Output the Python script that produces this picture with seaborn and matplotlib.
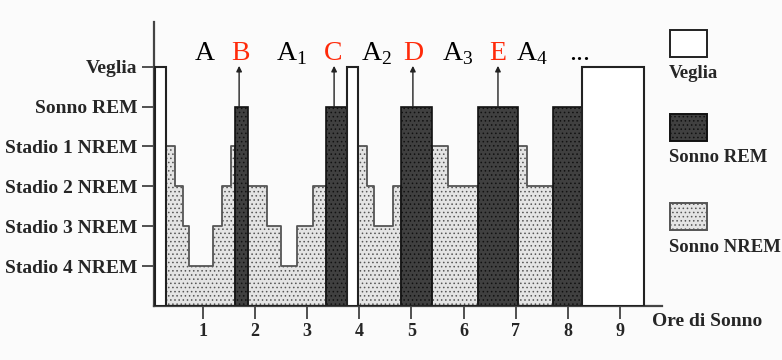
import matplotlib
matplotlib.use('Agg')
import matplotlib.pyplot as plt
import seaborn as sns
import pandas as pd
from matplotlib.patches import Rectangle

# stages on the y axis (top to bottom) and their numeric level
stage_labels = ['Veglia', 'Sonno REM', 'Stadio 1 NREM', 'Stadio 2 NREM',
                'Stadio 3 NREM', 'Stadio 4 NREM']
stage_levels = [6, 5, 4, 3, 2, 1]

# hypnogram: start of each segment (hours) and the stage in it
seg_start = [0.08, 0.30, 0.47, 0.62, 0.74, 1.20, 1.37, 1.54, 1.62, 1.87,
             2.23, 2.50, 2.81, 3.12, 3.37, 3.77, 3.98, 4.15, 4.28, 4.65,
             4.80, 5.40, 5.71, 6.28, 7.05, 7.22, 7.72, 8.27]
seg_end_last = 9.45
seg_stage = ['Veglia', 'Stadio 1 NREM', 'Stadio 2 NREM', 'Stadio 3 NREM',
             'Stadio 4 NREM', 'Stadio 3 NREM', 'Stadio 2 NREM', 'Stadio 1 NREM',
             'Sonno REM', 'Stadio 2 NREM', 'Stadio 3 NREM', 'Stadio 4 NREM',
             'Stadio 3 NREM', 'Stadio 2 NREM', 'Sonno REM', 'Veglia',
             'Stadio 1 NREM', 'Stadio 2 NREM', 'Stadio 3 NREM', 'Stadio 2 NREM',
             'Sonno REM', 'Stadio 1 NREM', 'Stadio 2 NREM', 'Sonno REM',
             'Stadio 1 NREM', 'Stadio 2 NREM', 'Sonno REM', 'Veglia']

hour_ticks = [1, 2, 3, 4, 5, 6, 7, 8, 9]

# cycle letters above the chart: label, x (hours), colour
cycle_text = ['A', 'B', r'A$_\mathrm{1}$', 'C', r'A$_\mathrm{2}$', 'D',
              r'A$_\mathrm{3}$', 'E', r'A$_\mathrm{4}$', '...']
cycle_x = [1.04, 1.72, 2.70, 3.50, 4.33, 5.03, 5.88, 6.66, 7.32, 8.22]
cycle_red = [False, True, False, True, False, True, False, True, False, False]
# arrows from the REM bars up to the red letters
arrow_x = [1.70, 3.52, 5.03, 6.66]

edges = seg_start + [seg_end_last]
level_of = dict(zip(stage_labels, stage_levels))
df = pd.DataFrame({'start': seg_start, 'end': edges[1:], 'stage': seg_stage})
df['mid'] = (df['start'] + df['end']) / 2
df['level'] = df['stage'].map(level_of)
df['kind'] = df['stage'].map(lambda s: s if s in ('Veglia', 'Sonno REM') else 'Sonno NREM')

sns.set_style('white')
plt.rcParams['font.family'] = ['Liberation Serif', 'DejaVu Serif']
plt.rcParams['mathtext.fontset'] = 'custom'
plt.rcParams['mathtext.rm'] = 'Liberation Serif'
plt.rcParams['hatch.linewidth'] = 0.6

bg = '#fbfbfb'
fig = plt.figure(figsize=(7.82, 3.6), dpi=100, facecolor=bg)
ax = fig.add_axes([0.197, 0.15, 0.65, 0.789])
ax.set_facecolor(bg)

nrem = df[df['kind'] == 'Sonno NREM']
rem = df[df['kind'] == 'Sonno REM']
wake = df[df['kind'] == 'Veglia']

sns.histplot(x=nrem['mid'], weights=nrem['level'], bins=edges, element='step',
             fill=True, facecolor='#e4e4e4', edgecolor='#555555', linewidth=1.3,
             hatch='....', alpha=1, ax=ax, zorder=1)
sns.histplot(x=rem['mid'], weights=rem['level'], bins=edges, element='bars',
             fill=True, facecolor='#404040', edgecolor='#111111', linewidth=1.2,
             hatch='....', alpha=1, ax=ax, zorder=2)
sns.histplot(x=wake['mid'], weights=wake['level'], bins=edges, element='bars',
             fill=True, facecolor='white', edgecolor='#222222', linewidth=1.5,
             alpha=1, ax=ax, zorder=3)

for x in arrow_x:
    ax.annotate('', xy=(x, 6.02), xytext=(x, 5.0),
                arrowprops=dict(arrowstyle='-|>', color='#222222', lw=1.0,
                                mutation_scale=8, shrinkA=0, shrinkB=0),
                zorder=4)

for t, x, red in zip(cycle_text, cycle_x, cycle_red):
    ax.text(x, 6.16, t, ha='center', va='baseline', fontsize=20,
            color='#ff2a0a' if red else 'black', clip_on=False)

ax.set_xlim(0.07, 9.81)
ax.set_ylim(0, 7.12)
ax.set_xticks(hour_ticks)
ax.set_xticklabels([str(h) for h in hour_ticks], fontsize=13, fontweight='bold')
ax.set_yticks(stage_levels)
ax.set_yticklabels(stage_labels, fontsize=14, fontweight='bold')
ax.set_xlabel('')
ax.set_ylabel('')
ax.tick_params(axis='both', direction='out', length=9, width=1.2, color='#333333',
               left=True, bottom=True, pad=3)
for side in ['top', 'right']:
    ax.spines[side].set_visible(False)
for side in ['left', 'bottom']:
    ax.spines[side].set_color('#444444')
    ax.spines[side].set_linewidth(1.6)

fig.text(652 / 782, 1 - 322 / 360, 'Ore di Sonno', ha='left', va='center',
         fontsize=14, fontweight='bold')

# legend: box above its label
legend_items = [('Veglia', 'white', None, '#222222'),
                ('Sonno REM', '#404040', '....', '#111111'),
                ('Sonno NREM', '#e4e4e4', '....', '#555555')]
legend_box_top = [30, 114, 203]
for (name, fc, hatch, ec), top in zip(legend_items, legend_box_top):
    fig.patches.append(Rectangle((670 / 782, 1 - (top + 27) / 360), 37 / 782, 27 / 360,
                                 transform=fig.transFigure, facecolor=fc,
                                 edgecolor=ec, hatch=hatch, linewidth=1.4))
    fig.text(669 / 782, 1 - (top + 44) / 360, name, ha='left', va='center',
             fontsize=13.5, fontweight='bold')

fig.savefig('out.png', dpi=100, facecolor=bg)
